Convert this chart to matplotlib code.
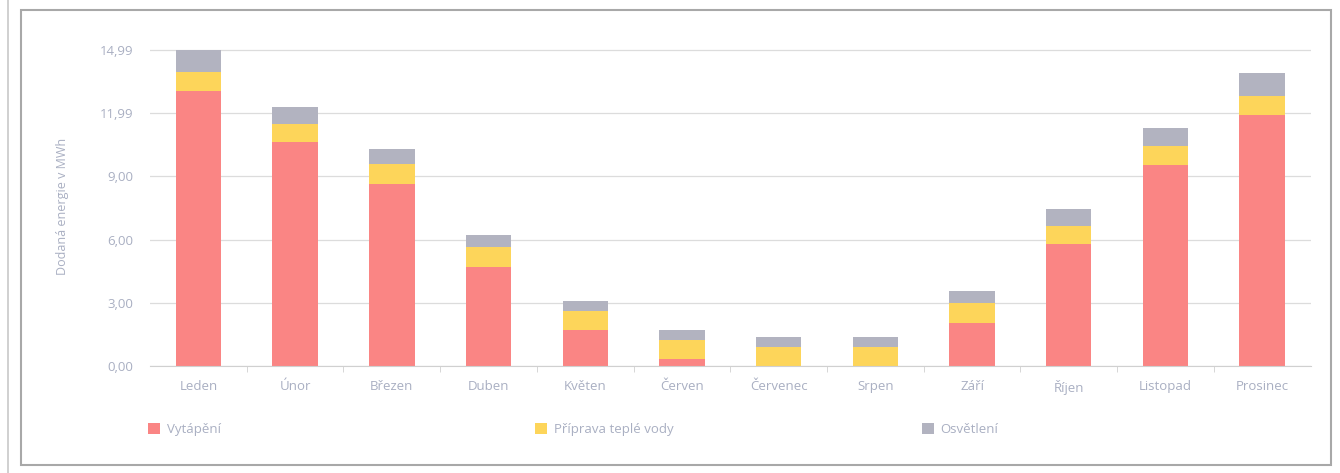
import matplotlib
matplotlib.use("Agg")
import matplotlib.pyplot as plt
from matplotlib.legend import Legend
from matplotlib.patches import Rectangle
import numpy as np

plt.rcParams['font.family'] = ['Open Sans', 'DejaVu Sans']

months = ["Leden", "Únor", "Březen", "Duben", "Květen", "Červen",
          "Červenec", "Srpen", "Září", "Říjen", "Listopad", "Prosinec"]
heating = [13.05, 10.63, 8.66, 4.71, 1.71, 0.36, 0.0, 0.0, 2.06, 5.78, 9.56, 11.94]
hot_water = [0.92, 0.84, 0.93, 0.95, 0.90, 0.88, 0.92, 0.90, 0.95, 0.88, 0.90, 0.90]
lighting = [1.03, 0.85, 0.73, 0.55, 0.47, 0.47, 0.46, 0.46, 0.55, 0.78, 0.85, 1.06]
series_names = ["Vytápění", "Příprava teplé vody", "Osvětlení"]
ytick_vals = [0, 3, 6, 9, 12, 15]
ytick_labels = ["0,00", "3,00", "6,00", "9,00", "11,99", "14,99"]

colors = ["#fa8584", "#fdd55a", "#b2b3c0"]
text_col = "#a9afc2"

fig = plt.figure(figsize=(13.4, 4.73), dpi=100)
ax = fig.add_axes([0.112, 0.226, 0.866, 0.677])

x = np.arange(len(months))
w = 0.47
b1 = ax.bar(x, heating, w, color=colors[0], zorder=2)
b2 = ax.bar(x, hot_water, w, bottom=heating, color=colors[1], zorder=2)
bottom2 = np.array(heating) + np.array(hot_water)
b3 = ax.bar(x, lighting, w, bottom=bottom2, color=colors[2], zorder=2)

ax.set_xlim(-0.5, 11.5)
ax.set_ylim(0, 15.2)
ax.set_yticks(ytick_vals)
ax.set_yticklabels(ytick_labels)
ax.set_xticks(x)
ax.set_xticklabels(months)
ax.set_xticks(np.arange(0.5, 11, 1), minor=True)
ax.tick_params(axis='x', which='major', length=0, pad=10, colors=text_col, labelsize=9.5)
ax.tick_params(axis='x', which='minor', length=4, color="#d0d0d0")
ax.tick_params(axis='y', length=0, pad=12, colors=text_col, labelsize=9.5)
ax.yaxis.grid(True, color="#dcdcdc", linewidth=0.9, zorder=0)
for s in ["top", "right", "left"]:
    ax.spines[s].set_visible(False)
ax.spines["bottom"].set_color("#d0d0d0")

ax.set_ylabel("Dodaná energie v MWh", color=text_col, fontsize=9, labelpad=22)

# one legend entry per third of the plot width, like the original
for i, (bars, name) in enumerate(zip([b1, b2, b3], series_names)):
    leg = Legend(ax, [bars], [name], loc="upper left",
                 bbox_to_anchor=(i / 3 - 0.006, -0.16), frameon=False,
                 handlelength=0.9, handleheight=0.9, handletextpad=0.5,
                 fontsize=9.5, labelcolor=text_col, borderaxespad=0)
    ax.add_artist(leg)

fig.patches.append(Rectangle((0.016, 0.017), 0.977, 0.962, transform=fig.transFigure,
                             fill=False, edgecolor="#a8a8a8", linewidth=1.5))
fig.lines.append(plt.Line2D([0.006, 0.006], [0.0, 1.0], transform=fig.transFigure,
                            color="#c8c8c8", linewidth=1.2))

fig.savefig("out.png", dpi=100)
